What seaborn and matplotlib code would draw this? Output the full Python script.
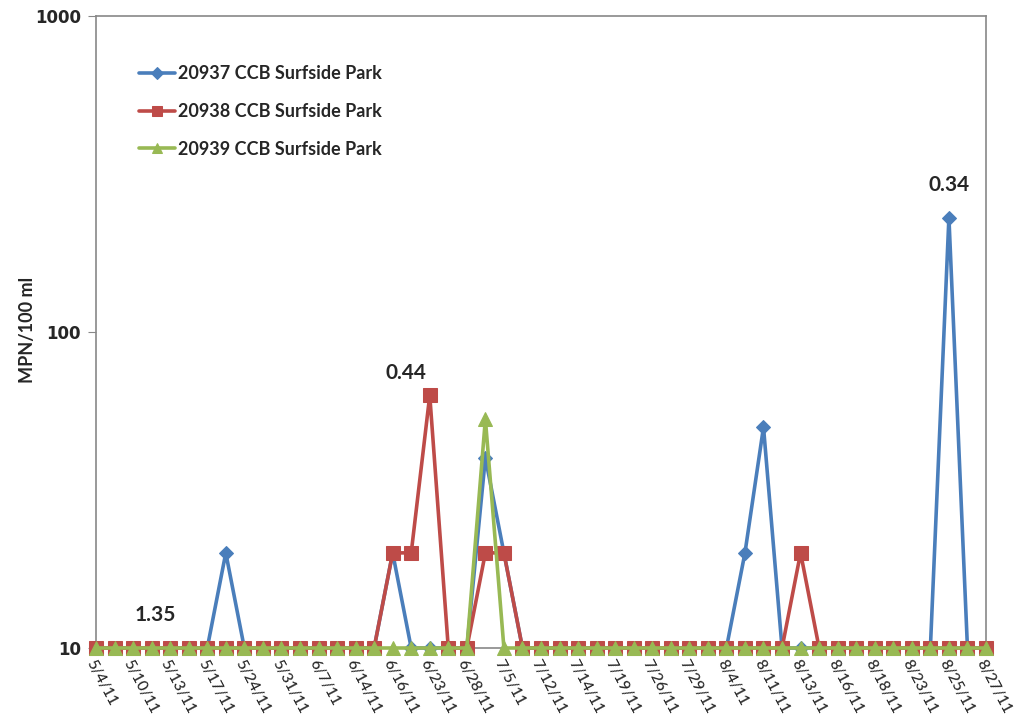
import numpy as np
import pandas as pd
import matplotlib
matplotlib.use("Agg")
import matplotlib.pyplot as plt
import seaborn as sns

# Sampling dates shown on the axis (every other sample is labelled)
tick_labels = ["5/4/11", "5/10/11", "5/13/11", "5/17/11", "5/24/11", "5/31/11",
               "6/7/11", "6/14/11", "6/16/11", "6/23/11", "6/28/11", "7/5/11",
               "7/12/11", "7/14/11", "7/19/11", "7/26/11", "7/29/11", "8/4/11",
               "8/11/11", "8/13/11", "8/16/11", "8/18/11", "8/23/11", "8/25/11",
               "8/27/11"]

# Enterococci results, MPN/100 ml, one value per sample (49 samples)
site_20937 = [10, 10, 10, 10, 10, 10, 10, 20, 10, 10,
              10, 10, 10, 10, 10, 10, 20, 10, 10, 10,
              10, 40, 20, 10, 10, 10, 10, 10, 10, 10,
              10, 10, 10, 10, 10, 20, 50, 10, 10, 10,
              10, 10, 10, 10, 10, 10, 230, 10, 10]
site_20938 = [10, 10, 10, 10, 10, 10, 10, 10, 10, 10,
              10, 10, 10, 10, 10, 10, 20, 20, 63, 10,
              10, 20, 20, 10, 10, 10, 10, 10, 10, 10,
              10, 10, 10, 10, 10, 10, 10, 10, 20, 10,
              10, 10, 10, 10, 10, 10, 10, 10, 10]
site_20939 = [10, 10, 10, 10, 10, 10, 10, 10, 10, 10,
              10, 10, 10, 10, 10, 10, 10, 10, 10, 10,
              10, 53, 10, 10, 10, 10, 10, 10, 10, 10,
              10, 10, 10, 10, 10, 10, 10, 10, 10, 10,
              10, 10, 10, 10, 10, 10, 10, 10, 10]

series_names = ["20937 CCB Surfside Park", "20938 CCB Surfside Park",
                "20939 CCB Surfside Park"]

# Rainfall annotations (inches) with their sample index and height
rain_labels = ["1.35", "0.44", "0.34"]
rain_index = [3.2, 16.7, 46.0]
rain_height = [12.7, 74, 292]

n = len(site_20937)
df = pd.DataFrame({
    "sample": np.tile(np.arange(n), 3),
    "value": site_20937 + site_20938 + site_20939,
    "site": np.repeat(series_names, n),
})

sns.set_style("white")
plt.rcParams["font.family"] = ["DejaVu Sans"]

fig = plt.figure(figsize=(10.16, 7.2), dpi=100)
ax = fig.add_axes([96 / 1016, 1 - 648 / 720, 890 / 1016, 632 / 720])

palette = {series_names[0]: "#4A7EBB", series_names[1]: "#BE4B48",
           series_names[2]: "#98B954"}
markers = {series_names[0]: "D", series_names[1]: "s", series_names[2]: "^"}
sizes = {series_names[0]: 7.5, series_names[1]: 10, series_names[2]: 10}

for name in series_names:
    sub = df[df["site"] == name]
    sns.lineplot(data=sub, x="sample", y="value", ax=ax, color=palette[name],
                 marker=markers[name], markersize=sizes[name],
                 markeredgecolor=palette[name], linewidth=2.6, label=name,
                 clip_on=False, zorder=3)

ax.set_yscale("log")
ax.set_ylim(10, 1000)
ax.set_xlim(0, n - 1)
ax.set_yticks([10, 100, 1000])
ax.set_yticklabels(["10", "100", "1000"], fontweight="bold", fontsize=12)
ax.yaxis.set_minor_locator(matplotlib.ticker.NullLocator())
ax.tick_params(axis="y", which="major", left=True, length=6, color="#888888",
               pad=5, direction="out")

ax.set_xticks(np.arange(0, n, 2))
ax.set_xticklabels(tick_labels, rotation=-62, ha="left", va="top",
                   rotation_mode="anchor", fontsize=11.2, family="Lato",
                   fontweight="medium")
ax.tick_params(axis="x", bottom=False, pad=3)

for side in ["left", "right", "top", "bottom"]:
    ax.spines[side].set_visible(True)
    ax.spines[side].set_color("#888888")
    ax.spines[side].set_linewidth(1.2)

ax.set_xlabel("")
ax.set_ylabel("")
fig.text(28 / 1016, 1 - 330 / 720, "MPN/100 ml", rotation=90, ha="center",
         va="center", fontsize=13, fontweight="bold", family="Lato")

for txt, xi, yv in zip(rain_labels, rain_index, rain_height):
    ax.text(xi, yv, txt, ha="center", va="center", fontsize=15,
            fontweight="bold", family="Lato")

leg = ax.legend(loc="upper left", bbox_to_anchor=(0.03, 0.948), frameon=False,
                prop={"family": "Lato", "weight": "bold", "size": 13},
                handlelength=2.0, handletextpad=0.15, labelspacing=1.15,
                markerscale=0.75)

fig.savefig("out.png", dpi=100, facecolor="white")
